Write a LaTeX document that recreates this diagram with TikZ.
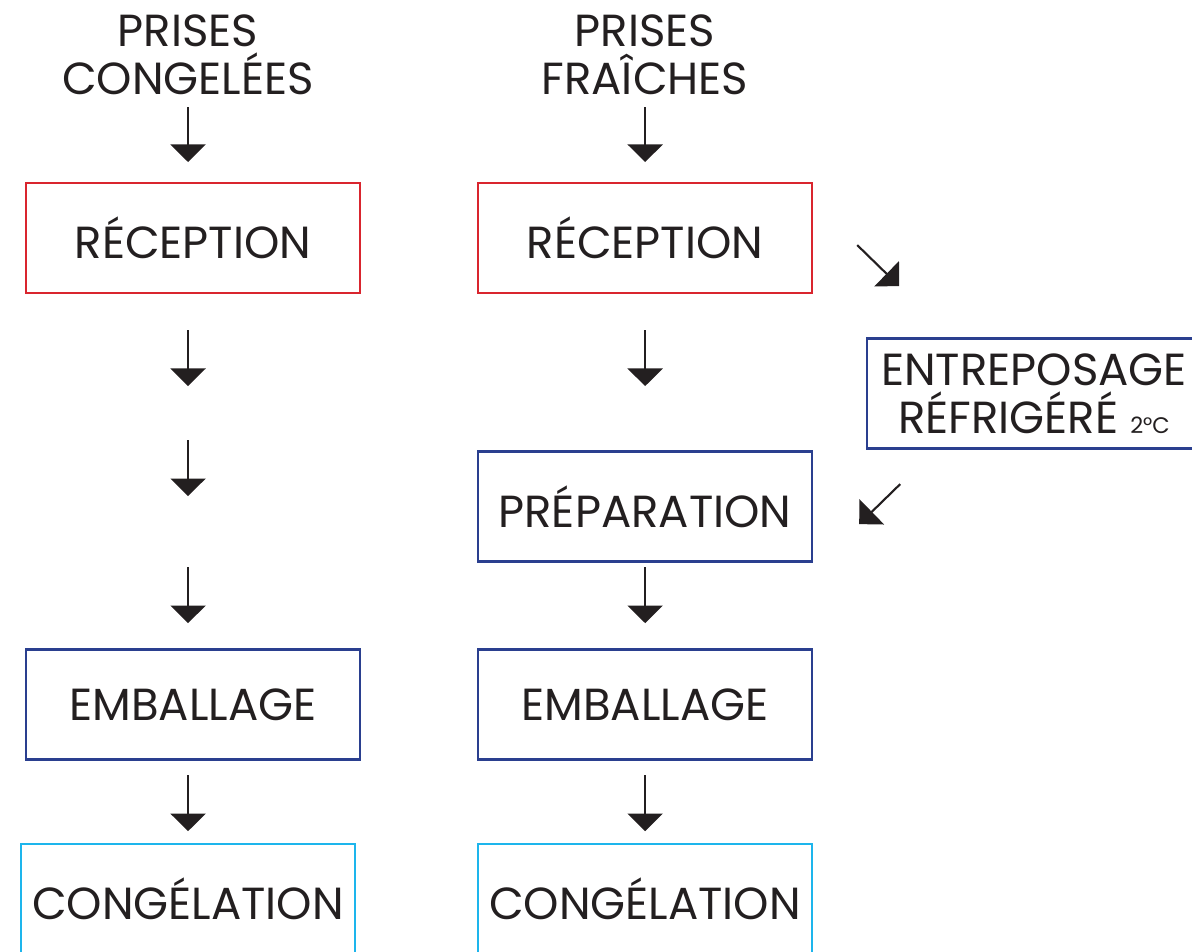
\documentclass[tikz,border=0pt]{standalone}
\usepackage{fontspec}
\setmainfont{Poppins}
\usetikzlibrary{arrows.meta}
\definecolor{txt}{HTML}{231F20}
\definecolor{rouge}{HTML}{D9252E}
\definecolor{bleu}{HTML}{2A3F8F}
\definecolor{cyan}{HTML}{1DB5EC}
\begin{document}
\begin{tikzpicture}[scale=2.5,
  every node/.style={text=txt, font=\fontsize{32}{34}\selectfont},
  etape/.style={draw, line width=1.8pt, minimum width=8.35cm, minimum height=2.75cm, inner sep=0pt},
  fleche/.style={draw=txt, line width=1.5pt, -{Triangle[width=0.875cm,length=0.44cm]}}]
\useasboundingbox (0,0) rectangle (11.92,-9.51);

\node[align=center] (pc) at (1.88,-0.55) {PRISES\\CONGELÉES};
\node[align=center] (pf) at (6.45,-0.55) {PRISES\\FRAÎCHES};

\node[etape, draw=rouge] (rc1) at (1.93,-2.38) {RÉCEPTION};
\node[etape, draw=rouge] (rc2) at (6.45,-2.38) {RÉCEPTION};
\node[etape, draw=bleu] (prep) at (6.45,-5.065) {PRÉPARATION};
\node[etape, draw=bleu, align=center] (entr) at (10.34,-3.935) {ENTREPOSAGE\\RÉFRIGÉRÉ {\fontsize{16}{16}\selectfont 2°C}};
\node[etape, draw=bleu] (emb1) at (1.93,-7.045) {EMBALLAGE};
\node[etape, draw=bleu] (emb2) at (6.45,-7.045) {EMBALLAGE};
\node[etape, draw=cyan] (cg1) at (1.88,-8.99) {CONGÉLATION};
\node[etape, draw=cyan] (cg2) at (6.45,-8.99) {CONGÉLATION};

% colonne de gauche
\coordinate (g1a) at (1.88,-1.07); \coordinate (g1b) at (1.88,-1.62);
\coordinate (g2a) at (1.88,-3.30); \coordinate (g2b) at (1.88,-3.86);
\coordinate (g3a) at (1.88,-4.40); \coordinate (g3b) at (1.88,-4.96);
\coordinate (g4a) at (1.88,-5.67); \coordinate (g4b) at (1.88,-6.23);
\coordinate (g5a) at (1.88,-7.75); \coordinate (g5b) at (1.88,-8.31);
\path[fleche] (g1a) -- (g1b);
\path[fleche] (g2a) -- (g2b);
\path[fleche] (g3a) -- (g3b);
\path[fleche] (g4a) -- (g4b);
\path[fleche] (g5a) -- (g5b);

% colonne de droite
\coordinate (d1a) at (6.45,-1.07); \coordinate (d1b) at (6.45,-1.62);
\coordinate (d2a) at (6.45,-3.30); \coordinate (d2b) at (6.45,-3.86);
\coordinate (d4a) at (6.45,-5.67); \coordinate (d4b) at (6.45,-6.23);
\coordinate (d5a) at (6.45,-7.75); \coordinate (d5b) at (6.45,-8.31);
\path[fleche] (d1a) -- (d1b);
\path[fleche] (d2a) -- (d2b);
\path[fleche] (d4a) -- (d4b);
\path[fleche] (d5a) -- (d5b);

% entreposage
\coordinate (e1a) at (8.57,-2.45); \coordinate (e1b) at (8.99,-2.86);
\coordinate (e2a) at (9.00,-4.84); \coordinate (e2b) at (8.59,-5.24);
\path[fleche] (e1a) -- (e1b);
\path[fleche] (e2a) -- (e2b);
\end{tikzpicture}
\end{document}
